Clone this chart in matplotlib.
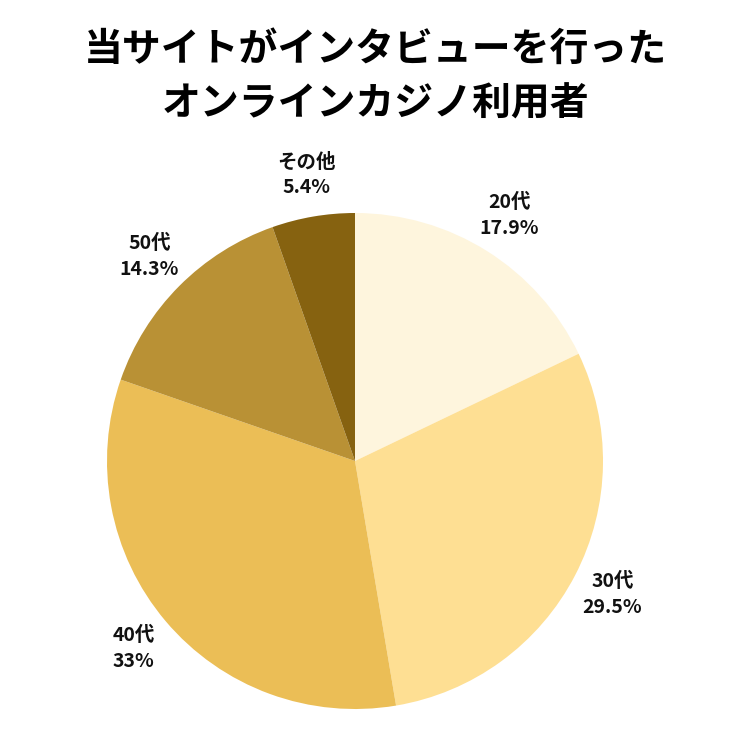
import matplotlib
matplotlib.use("Agg")
import matplotlib.pyplot as plt

plt.rcParams['font.family'] = ['Noto Sans CJK JP', 'DejaVu Sans']

labels = ["20代", "30代", "40代", "50代", "その他"]
values = [17.9, 29.5, 33.0, 14.3, 5.4]
pct_text = ["17.9%", "29.5%", "33%", "14.3%", "5.4%"]
colors = ["#FEF5DD", "#FEDF93", "#EBBE56", "#B99135", "#866210"]

title = "当サイトがインタビューを行った\nオンラインカジノ利用者"

fig = plt.figure(figsize=(7.5, 7.5), dpi=100)
ax = fig.add_axes([0, 0, 1, 1])

wedges, texts = ax.pie(values, colors=colors, startangle=90, counterclock=False,
                       labels=[f"{l}\n{p}" for l, p in zip(labels, pct_text)],
                       labeldistance=1.17,
                       textprops=dict(fontsize=14, fontweight="bold", color="#111111",
                                      linespacing=1.45))
for t in texts:
    t.set_ha("center")
    t.set_va("center")

# pie centre at (355, 461) px, radius 248 px
r_px = 248
cx, cy = 355, 750 - 461
ax.set_aspect("auto")
ax.set_xlim(-cx / r_px, (750 - cx) / r_px)
ax.set_ylim(-cy / r_px, (750 - cy) / r_px)
ax.axis("off")

fig.text(0.5, 1 - 77 / 750, title, ha="center", va="center", fontsize=28,
         fontweight="bold", color="black", linespacing=1.5)

fig.savefig("out.png", dpi=100, facecolor="white")
